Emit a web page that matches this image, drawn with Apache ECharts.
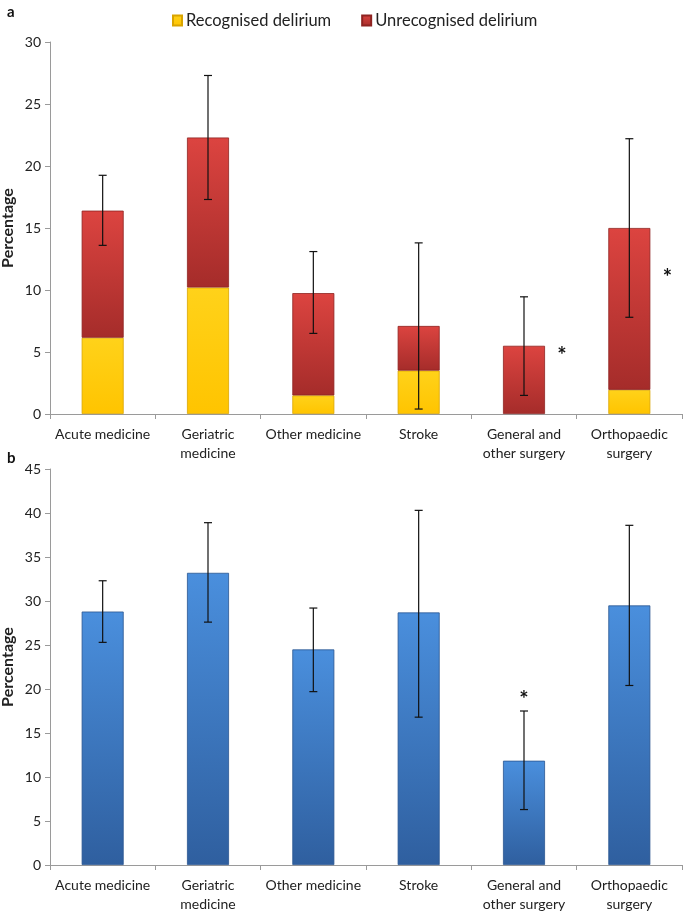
<!DOCTYPE html>
<html>
<head>
<meta charset="utf-8">
<script src="https://cdn.jsdelivr.net/npm/echarts@6/dist/echarts.min.js"></script>
<style>
html,body{margin:0;padding:0;background:#fff;}
#chart{width:685px;height:911px;}
</style>
</head>
<body>
<div id="chart"></div>
<script>
// ---- data ----
var categories = ['Acute medicine', 'Geriatric\nmedicine', 'Other medicine', 'Stroke', 'General and\nother surgery', 'Orthopaedic\nsurgery'];

// Panel a: stacked percentages
var recognisedA   = [6.15, 10.2, 1.5, 3.5, 0, 1.95];
var unrecognisedA = [10.25, 12.1, 8.25, 3.6, 5.5, 13.05];
var errLowA  = [13.6, 17.3, 6.5, 0.4, 1.5, 7.8];
var errHighA = [19.25, 27.3, 13.1, 13.8, 9.45, 22.2];
// asterisk annotations panel a: [categoryIndex, value]
var starsA = [[4, 4.9], [5, 11.2]];

// Panel b
var valuesB  = [28.8, 33.2, 24.5, 28.7, 11.85, 29.5];
var errLowB  = [25.3, 27.6, 19.7, 16.8, 6.3, 20.4];
var errHighB = [32.3, 38.9, 29.2, 40.3, 17.5, 38.6];
var starsB = [[4, 19.1]];

var yTicksA = {min: 0, max: 30, interval: 5};
var yTicksB = {min: 0, max: 45, interval: 5};

// ---- styling ----
var FONT = 'Lato, "Open Sans", sans-serif';
var TXT = '#222';
var AXIS = '#9a9a9a';

function grad(top, bottom) {
  return new echarts.graphic.LinearGradient(0, 0, 0, 1, [
    {offset: 0, color: top}, {offset: 1, color: bottom}
  ]);
}

function noBorderZeros(arr) {
  return arr.map(function (v) {
    return v === 0 ? {value: 0, itemStyle: {borderWidth: 0, opacity: 0}} : v;
  });
}

function errorSeries(xi, yi, lows, highs) {
  return {
    type: 'custom',
    xAxisIndex: xi, yAxisIndex: yi,
    z: 10,
    silent: true,
    data: lows.map(function (l, i) { return [i, l, highs[i]]; }),
    renderItem: function (params, api) {
      var lo = api.coord([api.value(0), api.value(1)]);
      var hi = api.coord([api.value(0), api.value(2)]);
      var cap = 4;
      var st = {stroke: '#111', lineWidth: 1.2};
      return {
        type: 'group',
        children: [
          {type: 'line', shape: {x1: lo[0], y1: lo[1], x2: hi[0], y2: hi[1]}, style: st},
          {type: 'line', shape: {x1: lo[0] - cap, y1: lo[1], x2: lo[0] + cap, y2: lo[1]}, style: st},
          {type: 'line', shape: {x1: hi[0] - cap, y1: hi[1], x2: hi[0] + cap, y2: hi[1]}, style: st}
        ]
      };
    }
  };
}

function starSeries(xi, yi, stars, dx) {
  return {
    type: 'custom',
    xAxisIndex: xi, yAxisIndex: yi,
    z: 11, silent: true,
    data: stars,
    renderItem: function (params, api) {
      var p = api.coord([api.value(0), api.value(1)]);
      return {
        type: 'text',
        x: p[0] + dx, y: p[1] + 3,
        style: {text: '*', fontSize: 22, fontWeight: 'bold', fill: '#111',
                align: 'center', verticalAlign: 'middle', fontFamily: FONT}
      };
    }
  };
}

function xAxisCfg(gi) {
  return {
    type: 'category', gridIndex: gi, data: categories,
    axisLine: {lineStyle: {color: AXIS, width: 1}},
    axisTick: {show: true, alignWithLabel: false, length: 5, lineStyle: {color: AXIS}},
    axisLabel: {color: TXT, fontSize: 14, fontFamily: FONT, margin: 11, lineHeight: 19, interval: 0}
  };
}
function yAxisCfg(gi, t) {
  return {
    type: 'value', gridIndex: gi, min: t.min, max: t.max, interval: t.interval,
    name: 'Percentage', nameLocation: 'middle', nameGap: 34, nameMoveOverlap: false,
    nameTextStyle: {color: TXT, fontSize: 16, fontWeight: 'bold', fontFamily: FONT},
    axisLine: {show: true, lineStyle: {color: AXIS}},
    axisTick: {show: true, length: 5, lineStyle: {color: AXIS}},
    splitLine: {show: false},
    axisLabel: {color: TXT, fontSize: 14, fontFamily: FONT, margin: 9}
  };
}

var yellowFill = grad('#ffd21a', '#ffc400');
var redFill = grad('#dc4440', '#a52c2a');
var blueFill = grad('#4a8fdd', '#2f5f9f');

var option = {
  backgroundColor: '#fff',
  animation: false,
  textStyle: {fontFamily: FONT},
  title: [
    {text: 'a', left: 2, top: 0, textStyle: {fontSize: 15, fontWeight: 'bold', color: '#111', fontFamily: FONT}},
    {text: 'b', left: 2, top: 446, textStyle: {fontSize: 15, fontWeight: 'bold', color: '#111', fontFamily: FONT}}
  ],
  legend: {
    top: 7, left: 167,
    icon: 'rect',
    itemWidth: 9, itemHeight: 10, itemGap: 30,
    textStyle: {color: TXT, fontSize: 16.5, fontFamily: FONT, padding: [0, 0, 0, -1]},
    data: ['Recognised delirium', 'Unrecognised delirium']
  },
  grid: [
    {left: 50, right: 3, top: 42, height: 372, containLabel: false, outerBoundsMode: 'none'},
    {left: 50, right: 3, top: 469, height: 396, containLabel: false, outerBoundsMode: 'none'}
  ],
  xAxis: [xAxisCfg(0), xAxisCfg(1)],
  yAxis: [yAxisCfg(0, yTicksA), yAxisCfg(1, yTicksB)],
  series: [
    {
      name: 'Recognised delirium', type: 'bar', stack: 'a',
      xAxisIndex: 0, yAxisIndex: 0, barWidth: 42,
      itemStyle: {color: yellowFill, borderColor: '#d9a400', borderWidth: 0.8},
      data: noBorderZeros(recognisedA)
    },
    {
      name: 'Unrecognised delirium', type: 'bar', stack: 'a',
      xAxisIndex: 0, yAxisIndex: 0, barWidth: 42,
      itemStyle: {color: redFill, borderColor: '#8e2321', borderWidth: 0.8},
      data: noBorderZeros(unrecognisedA)
    },
    errorSeries(0, 0, errLowA, errHighA),
    starSeries(0, 0, starsA, 38),
    {
      name: 'All delirium', type: 'bar',
      xAxisIndex: 1, yAxisIndex: 1, barWidth: 42,
      itemStyle: {color: blueFill, borderColor: '#2a5590', borderWidth: 0.8},
      data: valuesB
    },
    errorSeries(1, 1, errLowB, errHighB),
    starSeries(1, 1, starsB, 0)
  ]
};

var chart = echarts.init(document.getElementById('chart'), null, {renderer: 'canvas'});
chart.setOption(option);
</script>
</body>
</html>
